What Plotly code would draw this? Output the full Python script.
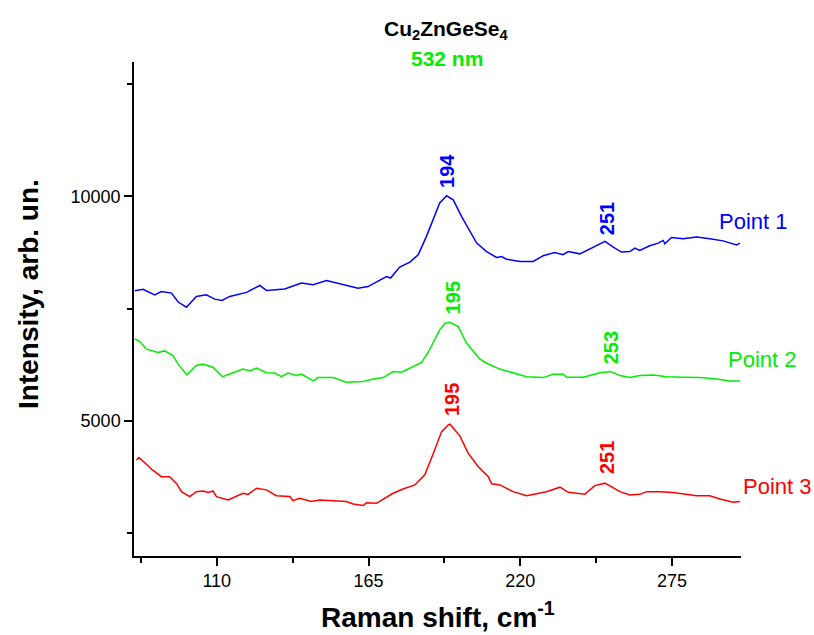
import plotly.graph_objects as go

# ---- data ----
blue_x = [80.3, 83.3, 87.5, 89.9, 93.6, 96.0, 99.0, 102.6, 106.2, 109.3, 111.9, 114.7, 120.8, 125.6, 128.0,
          134.6, 140.7, 144.9, 149.8, 154.6, 161.2, 164.8, 167.9, 171.5, 173.0, 176.3, 180.0, 183.0, 186.0, 188.4,
          190.8, 193.3, 195.7, 198.7, 201.7, 204.2, 207.8, 211.4, 213.2, 215.0, 219.9, 224.7, 228.3, 232.5, 235.5,
          237.4, 241.6, 246.4, 250.7, 253.7, 256.7, 259.7, 261.5, 263.3, 266.9, 270.0, 271.8, 272.4, 274.8, 279.0,
          283.9, 288.7, 293.5, 298.4, 299.6]
blue_y = [7895, 7930, 7805, 7880, 7845, 7645, 7530, 7770, 7805, 7710, 7680, 7770, 7860, 8015, 7905,
          7935, 8070, 8030, 8125, 8050, 7955, 7990, 8090, 8215, 8180, 8425, 8535, 8700, 9110, 9480,
          9855, 10015, 9925, 9555, 9220, 8960, 8770, 8640, 8660, 8600, 8550, 8550, 8680, 8750, 8700,
          8770, 8720, 8870, 9000, 8870, 8760, 8770, 8850, 8795, 8900, 8960, 9020, 8945, 9085, 9055,
          9095, 9055, 9010, 8920, 8960]

green_x = [80.3, 82.1, 84.5, 88.7, 91.1, 94.1, 96.0, 99.2, 102.6, 105.0, 108.6, 112.0, 114.7, 119.5, 122.0,
           124.4, 128.0, 131.0, 133.4, 135.8, 138.9, 140.7, 144.9, 146.7, 152.2, 157.0, 163.0, 165.5, 170.3, 173.9,
           177.0, 181.2, 184.2, 186.6, 188.4, 190.8, 192.7, 194.5, 197.5, 200.5, 205.3, 207.8, 212.6, 217.4, 222.3,
           228.3, 231.9, 235.5, 236.8, 242.8, 248.9, 252.7, 256.1, 259.7, 263.3, 268.2, 273.0, 279.0, 285.1, 291.2,
           296.0, 299.6]
green_y = [6825, 6765, 6595, 6520, 6555, 6450, 6260, 6020, 6230, 6260, 6190, 5980, 6040, 6150, 6115,
           6170, 6070, 6060, 5980, 6060, 6005, 6040, 5885, 5960, 5960, 5855, 5870, 5910, 5960, 6095,
           6080, 6205, 6300, 6520, 6750, 7025, 7175, 7195, 7100, 6730, 6375, 6280, 6150, 6070, 5980,
           5960, 6035, 6035, 5970, 5970, 6070, 6095, 6005, 5960, 6005, 6020, 5980, 5970, 5960, 5930,
           5885, 5885]

red_x = [80.9, 81.8, 83.9, 86.7, 89.9, 92.9, 95.4, 97.2, 100.2, 102.6, 105.0, 106.8, 108.6, 109.9, 114.1,
         115.9, 119.5, 121.3, 124.4, 128.0, 131.6, 136.5, 137.6, 140.1, 144.3, 147.3, 152.2, 157.0, 159.4, 163.0,
         164.3, 167.9, 173.9, 177.5, 181.8, 185.4, 188.4, 191.5, 193.9, 194.5, 196.3, 198.1, 201.1, 204.7, 208.4,
         209.6, 212.6, 217.4, 222.3, 225.9, 229.5, 234.4, 237.4, 243.4, 247.0, 250.7, 256.1, 259.7, 263.3, 265.8,
         270.6, 275.4, 280.3, 283.9, 288.7, 292.4, 297.2, 299.6]
red_y = [4123, 4175, 4060, 3900, 3750, 3750, 3600, 3415, 3305, 3415, 3430, 3395, 3430, 3305, 3230,
         3280, 3380, 3355, 3490, 3455, 3325, 3305, 3215, 3270, 3195, 3230, 3215, 3195, 3140, 3105,
         3170, 3155, 3380, 3475, 3565, 3790, 4255, 4755, 4905, 4920, 4790, 4660, 4275, 3975, 3750,
         3590, 3565, 3415, 3325, 3365, 3415, 3515, 3400, 3360, 3550, 3605, 3415, 3340, 3355, 3415,
         3415, 3395, 3360, 3325, 3325, 3250, 3180, 3195]

series_names = ["Point 1", "Point 2", "Point 3"]
series_colors = ["#0000FF", "#00EE00", "#FF0000"]

# peak labels: (text, x, y-bottom, color index)
peak_text = ["194", "251", "195", "253", "195", "251"]
peak_x = [193.5, 251.4, 195.5, 253.2, 195.5, 251.7]
peak_y = [10150, 9100, 7330, 6220, 5060, 3770]
peak_series = [0, 0, 1, 1, 2, 2]

x_tickvals = [110, 165, 220, 275]
y_tickvals = [5000, 10000]

FONT = "Arial, Liberation Sans, sans-serif"

fig = go.Figure()
for xs, ys, name, col in zip([blue_x, green_x, red_x], [blue_y, green_y, red_y], series_names, series_colors):
    fig.add_trace(go.Scatter(x=xs, y=ys, mode="lines", name=name,
                             line=dict(color=col, width=1.5), line_shape="linear"))

annotations = []
for t, x, y, s in zip(peak_text, peak_x, peak_y, peak_series):
    annotations.append(dict(x=x, y=y, xref="x", yref="y", text="<b>%s</b>" % t, showarrow=False,
                            textangle=-90, xanchor="center", yanchor="bottom",
                            font=dict(family=FONT, size=20, color=series_colors[s])))

# series name labels at the right end
name_pos = [(0.960, 0.678), (0.976, 0.398), (0.9995, 0.1417)]
for (px, py), name, col in zip(name_pos, series_names, series_colors):
    annotations.append(dict(x=px, y=py, xref="paper", yref="paper", text=name, showarrow=False,
                            xanchor="left", yanchor="middle",
                            font=dict(family=FONT, size=22, color=col)))

# titles
annotations.append(dict(x=0.515, y=1.065, xref="paper", yref="paper",
                        text="<b>Cu<sub>2</sub>ZnGeSe<sub>4</sub></b>", showarrow=False,
                        xanchor="center", yanchor="middle", font=dict(family=FONT, size=21, color="black")))
annotations.append(dict(x=0.515, y=1.007, xref="paper", yref="paper",
                        text="<b>532 nm</b>", showarrow=False,
                        xanchor="center", yanchor="middle", font=dict(family=FONT, size=21, color="#00EE00")))
annotations.append(dict(x=0.5, y=-0.12, xref="paper", yref="paper",
                        text="<b>Raman shift, cm<sup>-1</sup></b>", showarrow=False,
                        xanchor="center", yanchor="middle", font=dict(family=FONT, size=28, color="black")))
annotations.append(dict(x=-0.175, y=0.53, xref="paper", yref="paper",
                        text="<b>Intensity, arb. un.</b>", showarrow=False, textangle=-90,
                        xanchor="center", yanchor="middle", font=dict(family=FONT, size=28, color="black")))

fig.update_layout(
    width=814, height=635,
    margin=dict(l=134, r=73, t=62, b=79),
    paper_bgcolor="white", plot_bgcolor="white",
    showlegend=False,
    annotations=annotations,
    font=dict(family=FONT, color="black"),
)
fig.update_xaxes(range=[80, 300], showline=True, linecolor="black", linewidth=1.5,
                 showgrid=False, zeroline=False, ticks="outside", ticklen=8, tickwidth=1.5,
                 tickcolor="black", tickvals=x_tickvals, ticktext=[str(v) for v in x_tickvals],
                 tickfont=dict(family=FONT, size=18, color="black"),
                 minor=dict(ticks="outside", ticklen=5, tickwidth=1.5, tickcolor="black",
                            tick0=82.5, dtick=55, showgrid=False))
fig.update_yaxes(range=[1980, 13000], showline=True, linecolor="black", linewidth=1.5,
                 showgrid=False, zeroline=False, ticks="outside", ticklen=8, tickwidth=1.5,
                 tickcolor="black", tickvals=y_tickvals, ticktext=[str(v) for v in y_tickvals],
                 tickfont=dict(family=FONT, size=18, color="black"),
                 minor=dict(ticks="outside", ticklen=5, tickwidth=1.5, tickcolor="black",
                            tick0=2500, dtick=5000, showgrid=False))

fig.write_html("out.html")
